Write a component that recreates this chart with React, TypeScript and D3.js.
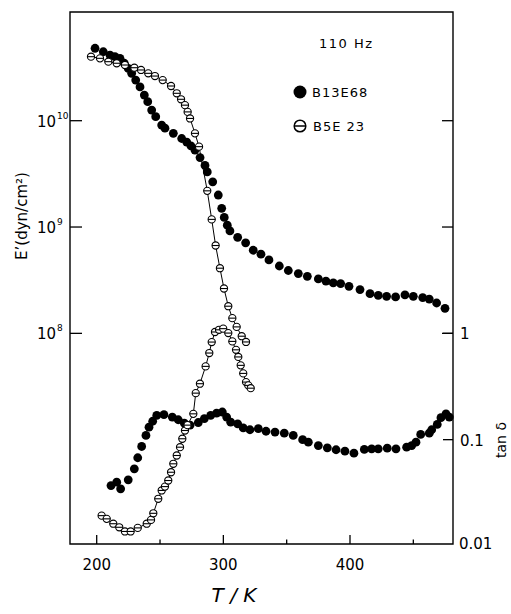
import React from 'react';
import * as d3 from 'd3';

// Storage modulus E' (dyn/cm^2) vs temperature T (K), 110 Hz
const b13e68Modulus: [number, number][] = [
  [198.7, 4.8e10], [205.2, 4.45e10], [210.5, 4.14e10], [214.4, 4.0e10], [218.4, 3.86e10],
  [221.8, 3.47e10], [224.9, 3.1e10], [227.6, 2.79e10], [230.8, 2.41e10], [234.2, 2.08e10],
  [237.6, 1.74e10], [240.3, 1.51e10], [243.4, 1.26e10], [246.6, 1.09e10], [251.3, 9.1e9],
  [253.9, 8.5e9], [260.5, 7.6e9], [267.1, 6.8e9], [271.1, 6.3e9], [274.4, 5.8e9],
  [277.6, 5.3e9], [281.6, 4.5e9], [285.5, 3.8e9], [287.3, 3.3e9], [291.6, 2.66e9],
  [296.0, 2.0e9], [298.7, 1.5e9], [300.7, 1.23e9], [303.1, 1.04e9], [305.2, 9.2e8],
  [311.3, 8.0e8], [317.6, 7.1e8], [323.6, 6.05e8], [329.7, 5.55e8], [336.0, 4.9e8],
  [344.2, 4.3e8], [351.3, 3.9e8], [359.2, 3.65e8], [366.3, 3.44e8], [375.0, 3.25e8],
  [381.0, 3.1e8], [386.8, 2.98e8], [392.6, 2.94e8], [399.2, 2.77e8], [407.9, 2.58e8],
  [415.8, 2.36e8], [422.3, 2.28e8], [428.9, 2.23e8], [436.0, 2.2e8], [443.4, 2.3e8],
  [450.0, 2.23e8], [457.4, 2.17e8], [462.6, 2.1e8], [468.4, 1.93e8], [475.0, 1.72e8],
];

const b5e23Modulus: [number, number][] = [
  [195.5, 4.0e10], [202.6, 3.86e10], [209.2, 3.59e10], [215.8, 3.47e10], [222.3, 3.34e10],
  [229.7, 3.15e10], [235.0, 3.0e10], [240.7, 2.79e10], [246.0, 2.63e10], [252.1, 2.41e10],
  [258.7, 2.12e10], [263.2, 1.81e10], [266.6, 1.59e10], [269.7, 1.4e10], [271.8, 1.21e10],
  [273.7, 1.05e10], [277.6, 7.6e9], [280.8, 5.7e9], [287.3, 2.19e9], [290.8, 1.18e9],
  [293.9, 6.7e8], [297.3, 4.1e8], [300.5, 2.64e8], [303.9, 1.8e8], [307.1, 1.39e8],
  [310.5, 1.15e8], [314.5, 9.4e7], [317.9, 8.3e7],
];

// Loss tangent tan δ vs temperature T (K)
const b13e68Loss: [number, number][] = [
  [211.3, 0.037], [215.8, 0.0398], [218.9, 0.0345], [224.9, 0.0419], [229.7, 0.0532],
  [232.4, 0.0676], [235.5, 0.0863], [238.9, 0.1096], [241.3, 0.131], [244.2, 0.149],
  [247.4, 0.169], [253.1, 0.172], [259.7, 0.163], [264.4, 0.154], [269.2, 0.143],
  [273.7, 0.137], [280.2, 0.145], [285.0, 0.158], [290.0, 0.169], [294.7, 0.178],
  [299.2, 0.182], [302.6, 0.163], [305.8, 0.146], [311.3, 0.141], [315.7, 0.129],
  [321.0, 0.124], [327.6, 0.127], [333.7, 0.12], [340.8, 0.118], [348.1, 0.115],
  [355.2, 0.1096], [362.6, 0.1], [367.1, 0.0947], [375.0, 0.088], [382.1, 0.0839],
  [389.0, 0.0804], [396.0, 0.078], [403.1, 0.0746], [411.3, 0.0809], [417.1, 0.082],
  [422.3, 0.082], [429.4, 0.0832], [436.3, 0.082], [444.7, 0.085], [448.7, 0.088],
  [452.1, 0.0947], [455.8, 0.112], [462.6, 0.115], [464.5, 0.124], [468.9, 0.139],
  [471.8, 0.161], [475.8, 0.175], [478.4, 0.163],
];

const b5e23Loss: [number, number][] = [
  [203.9, 0.0193], [207.9, 0.018], [213.1, 0.0162], [217.8, 0.015], [222.3, 0.0137],
  [226.8, 0.0137], [232.4, 0.0148], [239.5, 0.0162], [242.9, 0.0176], [244.7, 0.0203],
  [248.6, 0.0278], [251.3, 0.0333], [253.9, 0.0362], [256.5, 0.0413], [258.7, 0.0494],
  [260.5, 0.0593], [263.2, 0.071], [265.8, 0.085], [267.6, 0.102], [269.7, 0.122],
  [271.7, 0.137], [276.3, 0.175], [278.2, 0.274], [281.5, 0.336], [286.0, 0.489],
  [288.9, 0.653], [290.8, 0.828], [293.4, 1.03], [296.6, 1.08], [299.9, 1.107],
  [303.9, 1.006], [307.1, 0.84], [310.0, 0.7], [311.8, 0.6], [313.7, 0.5],
  [315.7, 0.42], [317.9, 0.348], [319.7, 0.324], [321.6, 0.305],
];

const tempTicksMajor = [200, 300, 400];
const tempTicksMinor = [250, 350, 450];
const modulusTicks = [1e10, 1e9, 1e8];
const modulusExponents = ['10', '9', '8'];
const lossTicks = [1, 0.1];
const lossTickLabels = ['1', '0.1'];
const legendLabels = ['B13E68', 'B5E 23'];

const FONT = '"DejaVu Sans", "Liberation Sans", sans-serif';

const left = 70;
const right = 453;
const top = 12;
const bottom = 544;

const x = d3.scaleLinear().domain([200, 400]).range([96.7, 350]);
const yMod = d3.scaleLog().domain([1e6, 1e10]).range([546, 120.7]);
// tan δ shares the vertical scale: tan δ = 1 sits at E' = 10^8
const yLoss = d3.scaleLog().domain([0.01, 100]).range([546, 120.7]);

function DashedCircle({ cx, cy, r, sw }: { cx: number; cy: number; r: number; sw: number }) {
  return (
    <g>
      <circle cx={cx} cy={cy} r={r} fill="#fff" stroke="#000" strokeWidth={sw} />
      <line x1={cx - r} x2={cx + r} y1={cy} y2={cy} stroke="#000" strokeWidth={sw} />
    </g>
  );
}

export default function App() {
  const modPath =
    d3
      .line<[number, number]>()
      .x((d) => x(d[0]))
      .y((d) => yMod(d[1]))(b5e23Modulus) || '';
  const lossPath =
    d3
      .line<[number, number]>()
      .x((d) => x(d[0]))
      .y((d) => yLoss(d[1]))(b5e23Loss) || '';

  return (
    <svg
      width={511}
      height={614}
      style={{ position: 'absolute', left: 0, top: 0, background: '#fff' }}
      fontFamily={FONT}
    >
      <rect x={0} y={0} width={511} height={614} fill="#fff" />
      {/* frame */}
      <path
        d={`M${left},${top} V${bottom} H${right} V${top} Z`}
        fill="none"
        stroke="#000"
        strokeWidth={1.4}
      />
      {/* bottom ticks */}
      {tempTicksMajor.map((t) => (
        <g key={`tx${t}`}>
          <line x1={x(t)} x2={x(t)} y1={bottom} y2={bottom - 9} stroke="#000" strokeWidth={1.3} />
          <text x={x(t)} y={570} fontSize={15} textAnchor="middle">
            {t}
          </text>
        </g>
      ))}
      {tempTicksMinor.map((t) => (
        <line key={`tm${t}`} x1={x(t)} x2={x(t)} y1={bottom} y2={bottom - 4.5} stroke="#000" strokeWidth={1.3} />
      ))}
      {/* left ticks E' */}
      {modulusTicks.map((v, i) => (
        <g key={`ym${v}`}>
          <line x1={left} x2={left + 12} y1={yMod(v)} y2={yMod(v)} stroke="#000" strokeWidth={1.3} />
          <line x1={right} x2={right - 11} y1={yMod(v)} y2={yMod(v)} stroke="#000" strokeWidth={1.3} />
          <text x={37} y={yMod(v) + 6} fontSize={15}>
            10
            <tspan fontSize={9} dy={-8} dx={1}>
              {modulusExponents[i]}
            </tspan>
          </text>
        </g>
      ))}
      {/* right ticks tan δ */}
      {lossTicks.map((v, i) => (
        <g key={`yl${v}`}>
          <line x1={right} x2={right - 10} y1={yLoss(v)} y2={yLoss(v)} stroke="#000" strokeWidth={1.3} />
          <text x={460} y={yLoss(v) + 6} fontSize={15}>
            {lossTickLabels[i]}
          </text>
        </g>
      ))}
      <text x={459} y={549} fontSize={15}>
        0.01
      </text>

      {/* axis titles */}
      <text transform="translate(27,216) rotate(-90)" fontSize={15} textAnchor="middle">
        E’(dyn/cm²)
      </text>
      <text transform="translate(506,440) rotate(-90)" fontSize={14} textAnchor="middle">
        tan δ
      </text>
      <text x={234} y={602} fontSize={20} textAnchor="middle" fontStyle="italic" fontWeight={300}>
        T / K
      </text>

      {/* B5E23 connecting lines */}
      <path d={modPath} fill="none" stroke="#000" strokeWidth={1} />
      <path d={lossPath} fill="none" stroke="#000" strokeWidth={1} />

      {/* B13E68 filled markers */}
      {b13e68Modulus.map((d, i) => (
        <circle key={`fm${i}`} cx={x(d[0])} cy={yMod(d[1])} r={4.4} fill="#000" />
      ))}
      {b13e68Loss.map((d, i) => (
        <circle key={`fl${i}`} cx={x(d[0])} cy={yLoss(d[1])} r={4.4} fill="#000" />
      ))}

      {/* B5E23 open markers */}
      {b5e23Modulus.map((d, i) => (
        <DashedCircle key={`om${i}`} cx={x(d[0])} cy={yMod(d[1])} r={3.6} sw={1.1} />
      ))}
      {b5e23Loss.map((d, i) => (
        <DashedCircle key={`ol${i}`} cx={x(d[0])} cy={yLoss(d[1])} r={3.6} sw={1.1} />
      ))}

      {/* legend */}
      <text x={319} y={48} fontSize={13} letterSpacing={1.5}>
        110 Hz
      </text>
      <circle cx={300} cy={92} r={6.5} fill="#000" />
      <text x={312} y={97} fontSize={13} letterSpacing={1}>
        {legendLabels[0]}
      </text>
      <DashedCircle cx={300} cy={126} r={5.8} sw={1.5} />
      <text x={313} y={131} fontSize={13} letterSpacing={1}>
        {legendLabels[1]}
      </text>
    </svg>
  );
}
